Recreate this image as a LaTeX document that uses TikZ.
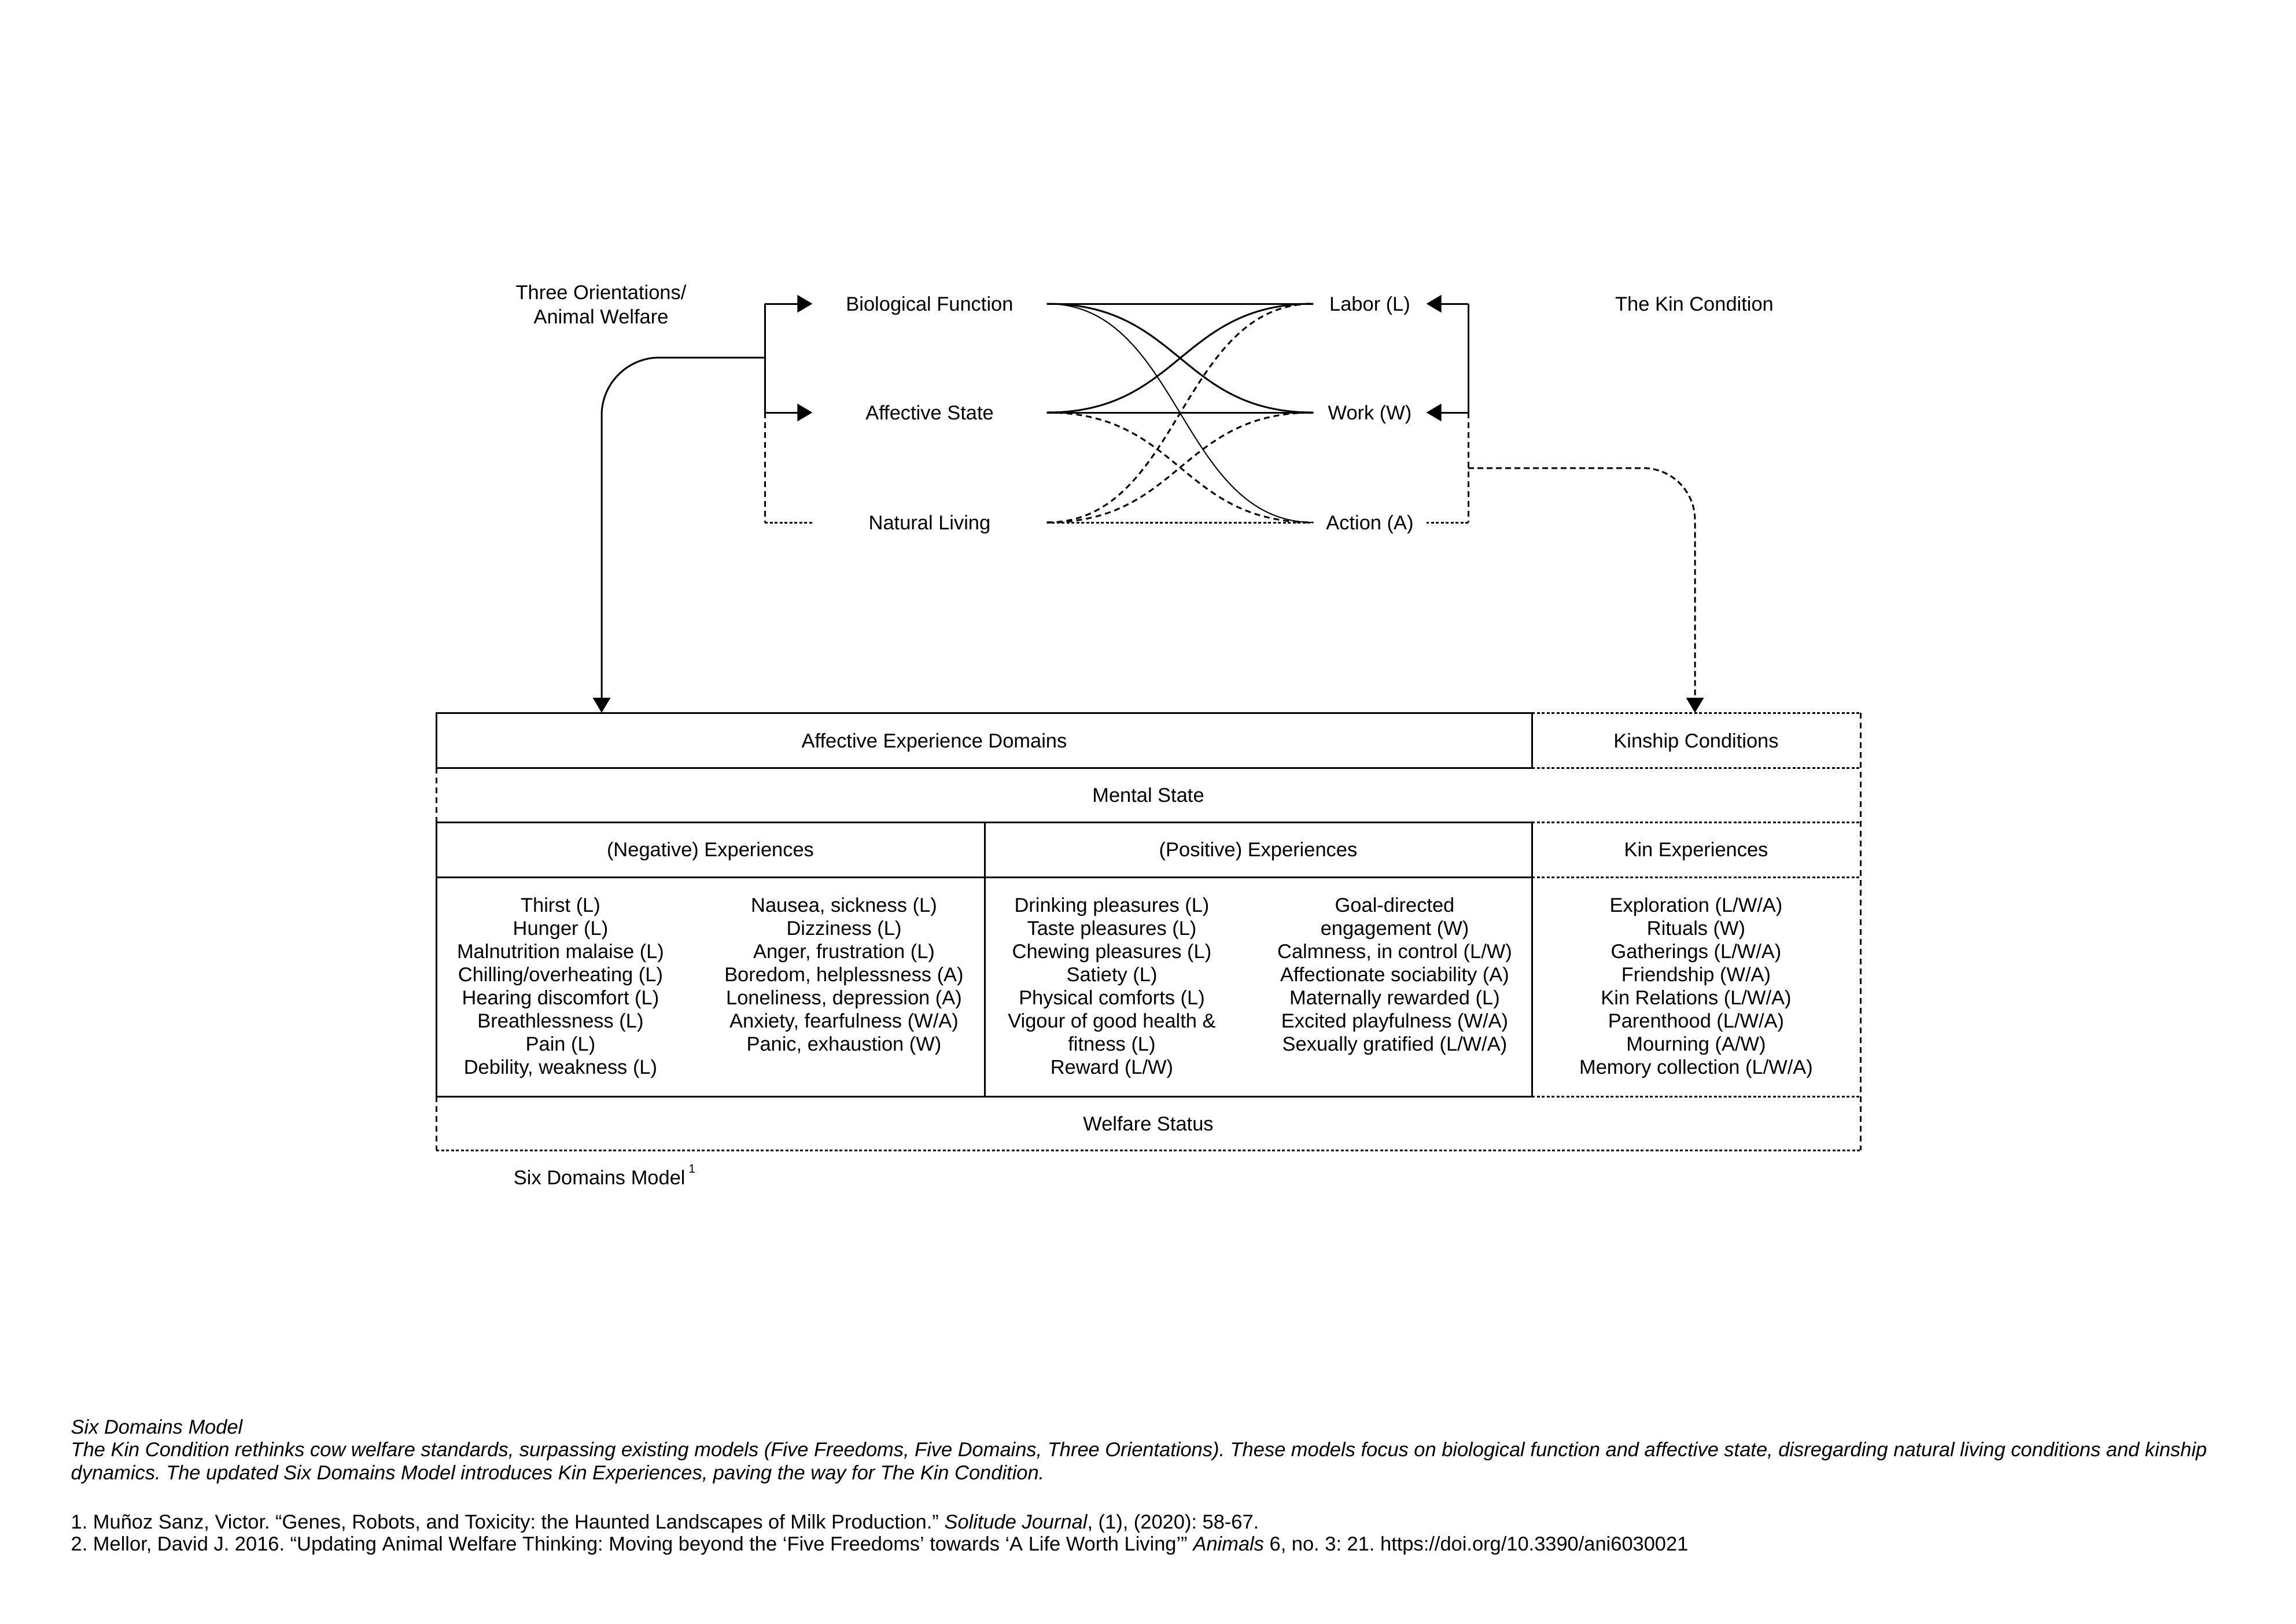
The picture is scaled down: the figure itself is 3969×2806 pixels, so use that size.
\documentclass[tikz,border=0pt]{standalone}
\usepackage{fontspec}
\setmainfont{Liberation Sans}
\usetikzlibrary{arrows.meta}
\frenchspacing
\begin{document}
\begin{tikzpicture}[x=0.1mm,y=-0.1mm,
  every node/.style={inner sep=0pt},
  fnt/.style={font=\fontsize{9.8pt}{11.4pt}\selectfont},
  txt/.style={fnt, text height=2.5mm, text depth=0mm, anchor=center},
  capfnt/.style={font=\fontsize{9.8pt}{11pt}\selectfont, anchor=base west},
  ln/.style={line width=0.3mm},
  thinln/.style={line width=0.2mm},
  dsh/.style={line width=0.3mm, dash pattern=on 1mm off 0.7mm},
  dsh2/.style={line width=0.3mm, dash pattern=on 1mm off 0.6mm},
  dts/.style={line width=0.3mm, dash pattern=on 0.5mm off 0.35mm},
  tip/.style={-{Triangle[length=2.6mm,width=3mm]}},
]
\useasboundingbox (0,0) rectangle (3969,2806);

% ---------- top labels ----------
\node[fnt, align=center, font=\fontsize{9.8pt}{4.2mm}\selectfont] (tow) at (1039,526) {Three Orientations/\\Animal Welfare};
\node[txt, minimum width=40.4mm] (bio) at (1607,525) {Biological Function};
\node[txt, minimum width=40.4mm] (aff) at (1607,713) {Affective State};
\node[txt, minimum width=40.4mm] (nat) at (1607,903) {Natural Living};
\node[txt, minimum width=19.4mm] (lab) at (2368,525) {Labor (L)};
\node[txt, minimum width=19.4mm] (wrk) at (2368,713) {Work (W)};
\node[txt, minimum width=19.4mm] (act) at (2368,903) {Action (A)};
\node[txt] (tkc) at (2929,525) {The Kin Condition};

% ---------- left bracket ----------
\coordinate (lt) at (1322,525);
\coordinate (lm) at (1322,713);
\coordinate (lb) at (1322,903);
\coordinate (lbr) at (1322,618);
\coordinate (aedin) at (1040,1232);
\draw[ln] (lt) -- (lm);
\draw[ln,tip] (lt) -- (bio.west);
\draw[ln,tip] (lm) -- (aff.west);
\draw[dsh] (lm) -- (lb);
\draw[dts] (lb) -- (nat.west);
\draw[ln,tip,rounded corners=10mm] (lbr) -- (1040,618) -- (aedin);

% ---------- right bracket ----------
\coordinate (rt) at (2538,525);
\coordinate (rm) at (2538,713);
\coordinate (rb) at (2538,903);
\coordinate (rbr) at (2538,809);
\coordinate (kcin) at (2930,1232);
\draw[ln] (rt) -- (rm);
\draw[ln,tip] (rt) -- (lab.east);
\draw[ln,tip] (rm) -- (wrk.east);
\draw[dsh] (rm) -- (rb);
\draw[dts] (rb) -- (act.east);
\draw[dsh2,tip,rounded corners=9mm] (rbr) -- (2930,809) -- (kcin);

% ---------- connections ----------
\draw[ln] (bio.east) -- (lab.west);
\draw[ln] (bio.east) .. controls +(231,0) and +(-231,0) .. (wrk.west);
\draw[thinln] (bio.east) .. controls +(231,0) and +(-231,0) .. (act.west);
\draw[ln] (aff.east) .. controls +(231,0) and +(-231,0) .. (lab.west);
\draw[ln] (aff.east) -- (wrk.west);
\draw[dsh] (aff.east) .. controls +(231,0) and +(-231,0) .. (act.west);
\draw[dsh] (nat.east) .. controls +(231,0) and +(-231,0) .. (lab.west);
\draw[dsh] (nat.east) .. controls +(231,0) and +(-231,0) .. (wrk.west);
\draw[dts] (nat.east) -- (act.west);

% ---------- table ----------
\draw[ln] (754,1232) rectangle (2648,1327);
\draw[dts] (2648,1232) -- (3216,1232);
\draw[dts] (2648,1327) -- (3216,1327);
\draw[dsh] (3216,1232) -- (3216,1988);
\draw[dsh] (754,1327) -- (754,1421);
\draw[dts] (2648,1421) -- (3216,1421);
\draw[ln] (754,1421) rectangle (1702,1895);
\draw[ln] (1702,1421) rectangle (2648,1895);
\draw[ln] (754,1516) -- (2648,1516);
\draw[dts] (2648,1516) -- (3216,1516);
\draw[dts] (2648,1895) -- (3216,1895);
\draw[dsh] (754,1895) -- (754,1988);
\draw[dts] (754,1988) -- (3216,1988);

\node[txt] (aed) at (1615,1280) {Affective Experience Domains};
\node[txt] (kc) at (2932,1280) {Kinship Conditions};
\node[txt] (ms) at (1985,1374) {Mental State};
\node[txt] (negh) at (1228,1468) {(Negative) Experiences};
\node[txt] (posh) at (2175,1468) {(Positive) Experiences};
\node[txt] (kinh) at (2932,1468) {Kin Experiences};
\node[txt] (ws) at (1985,1942) {Welfare Status};

\foreach \itm [count=\i from 0] in {Thirst (L), Hunger (L), Malnutrition malaise (L), Chilling/overheating (L), Hearing discomfort (L), Breathlessness (L), Pain (L), {Debility, weakness (L)}}
  \node[txt] (na\i) at (969,{1564+40*\i}) {\itm};
\foreach \itm [count=\i from 0] in {{Nausea, sickness (L)}, Dizziness (L), {Anger, frustration (L)}, {Boredom, helplessness (A)}, {Loneliness, depression (A)}, {Anxiety, fearfulness (W/A)}, {Panic, exhaustion (W)}}
  \node[txt] (nb\i) at (1459,{1564+40*\i}) {\itm};
\foreach \itm [count=\i from 0] in {Drinking pleasures (L), Taste pleasures (L), Chewing pleasures (L), Satiety (L), Physical comforts (L), Vigour of good health \&, fitness (L), Reward (L/W)}
  \node[txt] (pa\i) at (1922,{1564+40*\i}) {\itm};
\foreach \itm [count=\i from 0] in {Goal-directed, engagement (W), {Calmness, in control (L/W)}, Affectionate sociability (A), Maternally rewarded (L), Excited playfulness (W/A), Sexually gratified (L/W/A)}
  \node[txt] (pb\i) at (2411,{1564+40*\i}) {\itm};
\foreach \itm [count=\i from 0] in {Exploration (L/W/A), Rituals (W), Gatherings (L/W/A), Friendship (W/A), Kin Relations (L/W/A), Parenthood (L/W/A), Mourning (A/W), Memory collection (L/W/A)}
  \node[txt] (ke\i) at (2932,{1564+40*\i}) {\itm};

\node[txt] (sdm) at (1045,2035) {Six Domains Model\,\raisebox{2mm}{\fontsize{6pt}{6pt}\selectfont 1}};

% ---------- caption ----------
\node[capfnt] (c1) at (122,2478) {\itshape Six Domains Model};
\node[capfnt] (c2) at (122,2517) {\itshape The Kin Condition rethinks cow welfare standards, surpassing existing models (Five Freedoms, Five Domains, Three Orientations). These models focus on biological function and affective state, disregarding natural living conditions and kinship};
\node[capfnt] (c3) at (122,2557) {\itshape dynamics. The updated Six Domains Model introduces Kin Experiences, paving the way for The Kin Condition.};
\node[capfnt] (r1) at (122,2642) {1. Muñoz Sanz, Victor. “Genes, Robots, and Toxicity: the Haunted Landscapes of Milk Production.” \textit{Solitude Journal}, (1), (2020): 58-67.};
\node[capfnt] (r2) at (122,2680) {2. Mellor, David J. 2016. “Updating Animal Welfare Thinking: Moving beyond the ‘Five Freedoms’ towards ‘A Life Worth Living’” \textit{Animals} 6, no. 3: 21. https://doi.org/10.3390/ani6030021};
\end{tikzpicture}
\end{document}
